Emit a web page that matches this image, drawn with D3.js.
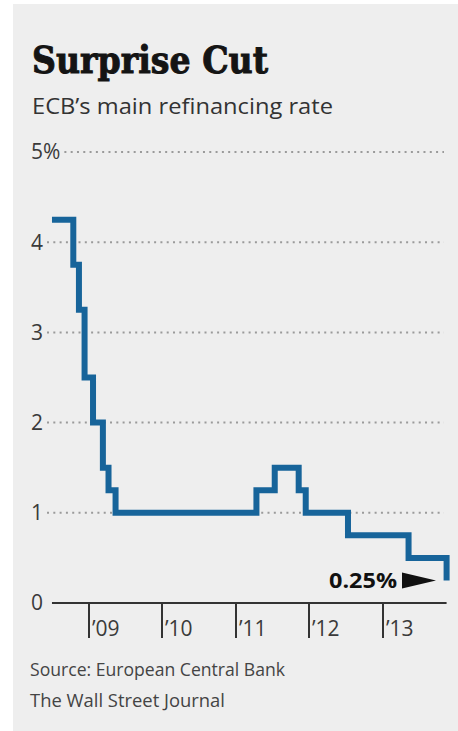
<!DOCTYPE html>
<html>
<head>
<meta charset="utf-8">
<script src="https://cdn.jsdelivr.net/npm/d3@7"></script>
<style>
  html, body { margin: 0; padding: 0; background: #ffffff; }
  svg { display: block; }
</style>
</head>
<body>
<script>
// ---- data ----
const rateDates = ["2008-07-01","2008-10-15","2008-11-12","2008-12-10","2009-01-21","2009-03-11","2009-04-08","2009-05-13","2011-04-13","2011-07-13","2011-11-09","2011-12-14","2012-07-11","2013-05-08","2013-11-13"];
const rateValues = [4.25, 3.75, 3.25, 2.50, 2.00, 1.50, 1.25, 1.00, 1.25, 1.50, 1.25, 1.00, 0.75, 0.50, 0.25];
const yTicks = [0, 1, 2, 3, 4, 5];
const yTickLabels = ["0", "1", "2", "3", "4", "5%"];
const xTickDates = ["2009-01-01","2010-01-01","2011-01-01","2012-01-01","2013-01-01"];
const xTickLabels = ["\u201909", "\u201910", "\u201911", "\u201912", "\u201913"];
const axisStart = "2008-07-01";
const axisEnd = "2013-11-13";
const titleText = "Surprise Cut";
const subtitleText = "ECB\u2019s main refinancing rate";
const sourceText = "Source: European Central Bank";
const creditText = "The Wall Street Journal";
const lastLabel = "0.25%";

const W = 458, H = 731;
const parse = d3.utcParse("%Y-%m-%d");
const data = rateDates.map((d, i) => ({ date: parse(d), value: rateValues[i] }));

const svg = d3.select("body").append("svg").attr("width", W).attr("height", H);

// panel background
svg.append("rect").attr("x", 13).attr("y", 4).attr("width", W - 13).attr("height", H - 4).attr("fill", "#eeeeee");

// scales
const x = d3.scaleUtc().domain([parse("2009-01-01"), parse("2013-01-01")]).range([89, 383]);
const y = d3.scaleLinear().domain([0, 5]).range([603, 152]);

// title
svg.append("text").attr("x", 32).attr("y", 73)
  .attr("font-family", "DejaVu Serif").attr("font-weight", "bold").attr("font-size", 38)
  .attr("fill", "#141414").attr("stroke", "#141414").attr("stroke-width", 1)
  .attr("textLength", 236).attr("lengthAdjust", "spacingAndGlyphs")
  .text(titleText);

svg.append("text").attr("x", 32).attr("y", 114)
  .attr("font-family", "Open Sans").attr("font-size", 22.5)
  .attr("fill", "#333").attr("textLength", 301).attr("lengthAdjust", "spacingAndGlyphs")
  .text(subtitleText);

// y gridlines + labels
const gy = svg.append("g");
yTicks.forEach((t, i) => {
  const lbl = gy.append("text").attr("x", 31).attr("y", y(t)).attr("dy", "0.35em")
    .attr("font-family", "Open Sans").attr("font-size", 21).attr("fill", "#3a3a3a")
    .text(yTickLabels[i]);
  if (t > 0) {
    const w = lbl.node().getComputedTextLength();
    gy.append("line").attr("x1", 31 + w + 4).attr("x2", 444)
      .attr("y1", y(t)).attr("y2", y(t))
      .attr("stroke", "#9a9a9a").attr("stroke-width", 2).attr("stroke-dasharray", "2,4.3");
  }
});

// x axis line
svg.append("line").attr("x1", x(parse(axisStart))).attr("x2", x(parse(axisEnd)))
  .attr("y1", y(0)).attr("y2", y(0)).attr("stroke", "#333").attr("stroke-width", 2);

// x ticks and labels
xTickDates.forEach((d, i) => {
  const xx = Math.round(x(parse(d)));
  svg.append("line").attr("x1", xx).attr("x2", xx).attr("y1", y(0)).attr("y2", 638)
    .attr("stroke", "#333").attr("stroke-width", 2);
  svg.append("text").attr("x", xx + 3).attr("y", 636)
    .attr("font-family", "Open Sans").attr("font-size", 21).attr("fill", "#3a3a3a")
    .text(xTickLabels[i]);
});

// rate line
const line = d3.line().x(d => x(d.date)).y(d => y(d.value)).curve(d3.curveStepAfter);
svg.append("path").datum(data).attr("d", line)
  .attr("fill", "none").attr("stroke", "#17649a").attr("stroke-width", 6)
  .attr("stroke-linejoin", "miter").attr("stroke-linecap", "butt");

// last value annotation
const last = data[data.length - 1];
svg.append("text").attr("x", 397).attr("y", 588).attr("text-anchor", "end")
  .attr("font-family", "Open Sans").attr("font-weight", "bold").attr("font-size", 21)
  .attr("fill", "#111").attr("textLength", 68).attr("lengthAdjust", "spacingAndGlyphs")
  .text(lastLabel);
const ty = y(last.value);
svg.append("path")
  .attr("d", `M402,${ty - 8}L436,${ty}L402,${ty + 8}Z`)
  .attr("fill", "#111");

// source and credit
svg.append("text").attr("x", 30).attr("y", 676)
  .attr("font-family", "Open Sans").attr("font-size", 18).attr("fill", "#444")
  .attr("textLength", 255).attr("lengthAdjust", "spacingAndGlyphs")
  .text(sourceText);
svg.append("text").attr("x", 30).attr("y", 707)
  .attr("font-family", "Open Sans").attr("font-size", 18).attr("fill", "#444")
  .attr("textLength", 195).attr("lengthAdjust", "spacingAndGlyphs")
  .text(creditText);
</script>
</body>
</html>
